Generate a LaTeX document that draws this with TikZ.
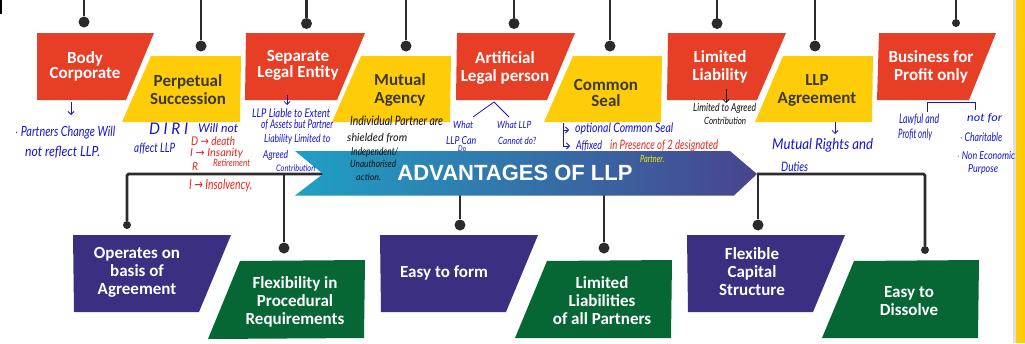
\documentclass[tikz,border=0pt]{standalone}
\usepackage{fontspec}
\setmainfont{Carlito}
\newfontfamily\handf{Lato}
\newfontfamily\arrf{DejaVu Sans}
\newfontfamily\banf{Liberation Sans}
\usetikzlibrary{arrows.meta}
\definecolor{redbox}{HTML}{E73E26}
\definecolor{yelbox}{HTML}{FFCC09}
\definecolor{purbox}{HTML}{3A2F80}
\definecolor{grnbox}{HTML}{066735}
\definecolor{stemc}{HTML}{2B2B2B}
\definecolor{inkb}{HTML}{1414D2}
\definecolor{inkr}{HTML}{E8261E}
\definecolor{inkk}{HTML}{101010}
\definecolor{inky}{HTML}{F4F000}
\definecolor{yeltext}{HTML}{3B3A2C}
\definecolor{banl}{HTML}{1FA0C4}
\definecolor{banr}{HTML}{48448E}
\newsavebox{\hwbox}
\newcommand{\hw}[7]{% name, x0, x1, y, colour, size, text
  \node[handnote,text=#5] (#1) at (#2,#4) {%
    \sbox{\hwbox}{\fontsize{#6}{#6}\selectfont\handf\itshape #7}%
    \pgfmathsetmacro{\hwsx}{(#3-#2)/\wd\hwbox}%
    \scalebox{\hwsx}[1]{\usebox{\hwbox}}};}
\tikzset{
  x=1pt,y=-1pt,
  lab/.style={inner sep=0pt,align=center,font=\fontsize{17}{18}\selectfont\bfseries},
  labw/.style={lab,text=white},
  laby/.style={lab,text=yeltext},
  stem/.style={draw=stemc,line width=2.6pt},
  dotbig/.style={circle,fill=stemc,inner sep=0pt,minimum size=11pt},
  dotsmall/.style={circle,fill=stemc,inner sep=0pt,minimum size=8pt},
  handnote/.style={anchor=west,inner sep=0pt},
  inkarrow/.style={line width=0.8pt,-{Straight Barb[length=3pt,width=6pt]}},
  inkline/.style={line width=0.8pt},
}
\begin{document}
\begin{tikzpicture}
\useasboundingbox (0,0) rectangle (1025,343);
\fill[white] (0,0) rectangle (1025,343);
% page edge
\fill[black!12] (1013,0) rectangle (1016,343);
\fill[yelbox] (1016,0) rectangle (1025,343);
\fill[black] (0,0) rectangle (2,14);
% upper connectors
\node[dotbig] (d1) at (84,22) {};
\node[dotbig] (d2) at (201,46) {};
\node[dotbig] (d3) at (306.5,23.5) {};
\node[dotbig] (d4) at (406,46) {};
\node[dotbig] (d5) at (514,23.5) {};
\node[dotbig] (d6) at (610,46) {};
\node[dotbig] (d7) at (717,23.5) {};
\node[dotbig] (d8) at (815,46) {};
\node[dotsmall] (d9) at (956,23) {};
\foreach \n/\xx in {1/84,2/201,3/306.5,4/406,5/514,6/610,7/717,8/815,9/956}{
  \coordinate (t\n) at (\xx,0);
  \draw[stem] (t\n) -- (d\n);
}
% upper boxes
\fill[redbox] (37,33) -- (154,33) -- (126,100) -- (37,100) -- cycle;
\fill[yelbox] (151,56) -- (241,56) -- (240,122) -- (122,122) -- cycle;
\fill[redbox] (246,33) -- (365,33) -- (337,100) -- (245,100) -- cycle;
\fill[yelbox] (361,56) -- (451,56) -- (450,122) -- (332,122) -- cycle;
\fill[redbox] (457,33) -- (575,33) -- (547,100) -- (456,100) -- cycle;
\fill[yelbox] (573,56) -- (662,56) -- (661,122) -- (544,122) -- cycle;
\fill[redbox] (668,33) -- (786,33) -- (757,100) -- (667,100) -- cycle;
\fill[yelbox] (783,56) -- (873,56) -- (872,122) -- (755,122) -- cycle;
\fill[redbox] (879,33) -- (996,33) -- (969,100) -- (877,100) -- cycle;
\node[labw] (body) at (85,66.5) {Body\\[-3pt]Corporate};
\node[laby] (perp) at (188,90) {Perpetual\\Succession};
\node[labw] (sep) at (298,65.5) {Separate\\[-2pt]Legal Entity};
\node[laby] (mut) at (400,90) {Mutual\\Agency};
\node[labw] (art) at (505,67.5) {Artificial\\Legal person};
\node[laby] (comm) at (606,92.5) {Common\\[-2pt]Seal};
\node[labw] (lim) at (720,66.5) {Limited\\Liability};
\node[laby] (agr) at (817,90) {LLP\\Agreement};
\node[labw] (biz) at (931,66.5) {Business for\\Profit only};
% lower connectors
\coordinate (hl) at (323,174);
\coordinate (hr) at (757,174);
\coordinate (cl) at (127,174);
\coordinate (cr) at (925,174);
\node[dotsmall] (e1) at (127,225) {};
\node[dotbig] (e2) at (284,248) {};
\node[dotbig] (e3) at (460,225) {};
\node[dotbig] (e4) at (604,248) {};
\node[dotbig] (e5) at (758,225) {};
\node[dotsmall] (e6) at (925,250) {};
\coordinate (s2) at (284,174);
\coordinate (s3) at (460,190);
\coordinate (s4) at (604,190);
\coordinate (s5) at (758,174);
\draw[stem,rounded corners=1.5pt] (e1) -- (cl) -- (hl);
\draw[stem,rounded corners=1.5pt] (hr) -- (cr) -- (e6);
\draw[stem] (s2) -- (e2);
\draw[stem] (s3) -- (e3);
\draw[stem] (s4) -- (e4);
\draw[stem] (s5) -- (e5);
% banner
\shade[left color=banl,right color=banr]
  (295,151) -- (730,151) -- (757,174) -- (734,195.5) -- (295,195.5) -- (323,174) -- cycle;
\node[text=white,inner sep=0pt,font=\fontsize{22}{22}\selectfont\banf\bfseries] (title) at (515,173) {ADVANTAGES OF LLP};
% lower boxes
\fill[purbox] (73,235) -- (231,235) -- (199,312) -- (74,312) -- cycle;
\fill[grnbox] (240,261) -- (365,260) -- (364,338) -- (208,339) -- cycle;
\fill[purbox] (380,235) -- (538,235) -- (506,312) -- (381,312) -- cycle;
\fill[grnbox] (547,261) -- (672,260) -- (671,338) -- (515,338) -- cycle;
\fill[purbox] (687,235) -- (845,235) -- (813,312) -- (688,312) -- cycle;
\fill[grnbox] (854,261) -- (979,260) -- (978,338) -- (822,338) -- cycle;
\node[labw] (op) at (137,272) {Operates on\\basis of\\Agreement};
\node[labw] (flex) at (295,302) {Flexibility in\\Procedural\\Requirements};
\node[labw] (easy) at (444,273) {Easy to form};
\node[labw] (liab) at (602,301) {Limited\\Liabilities\\of all Partners};
\node[labw] (cap) at (752,272) {Flexible\\Capital\\Structure};
\node[labw] (diss) at (909,301) {Easy to\\Dissolve};
% notes: Body Corporate
\coordinate (a1s) at (71,102); \coordinate (a1e) at (71,115);
\draw[inkb,inkarrow] (a1s) -- (a1e);
\hw{n11}{15}{115}{133}{inkb}{14}{$\cdot$ Partners Change Will}
\hw{n12}{25}{100}{152}{inkb}{14}{not reflect LLP.}
% Perpetual Succession
\hw{n21}{149}{188}{129}{inkb}{16}{D I R I}
\hw{n22}{198}{238}{128}{inkb}{12}{Will not}
\hw{n23}{134}{175}{149}{inkb}{13}{affect LLP}
\hw{n24}{191}{235}{141}{inkr}{12}{D {\arrf→} death}
\hw{n25}{190}{243}{153}{inkr}{11}{I {\arrf→} Insanity}
\hw{n26}{192}{198}{167}{inkr}{11}{R}
\hw{n27}{213}{250}{163}{inkr}{10}{Retirement}
\hw{n28}{189}{252}{186}{inkr}{14}{I {\arrf→} Insolvency.}
% Separate Legal Entity
\coordinate (a3s) at (287,95); \coordinate (a3e) at (287,105);
\draw[inkb,inkarrow] (a3s) -- (a3e);
\hw{n31}{252}{330}{113}{inkb}{12}{LLP Liable to Extent}
\hw{n32}{261}{333}{125}{inkb}{12}{of Assets but Partner}
\hw{n33}{264}{330}{139}{inkb}{11}{Liability Limited to}
\hw{n34}{263}{288}{155}{inkb}{11}{Agreed}
\hw{n35}{276}{315}{168}{inkb}{9}{Contribution}
% Mutual Agency
\hw{n41}{350}{443}{121}{inkk}{13}{Individual Partner are}
\hw{n42}{347}{407}{138}{inkk}{11}{shielded from}
\hw{n43}{351}{398}{152}{inkk}{11}{Independent/}
\hw{n44}{350}{396}{164}{inkk}{10}{Unauthorised}
\hw{n45}{356}{381}{177}{inkk}{9}{action.}
% Artificial Legal person
\coordinate (c1) at (473,117); \coordinate (c2) at (494,102); \coordinate (c3) at (509,117);
\draw[inkb,inkline] (c1) -- (c2) -- (c3);
\hw{n51}{453}{473}{125}{inkb}{10}{What}
\hw{n52}{446}{476}{141}{inkb}{11}{LLP Can}
\hw{n53}{458}{466}{149}{inkb}{8}{Do}
\hw{n54}{497}{531}{125}{inkb}{10}{What LLP}
\hw{n55}{498}{536}{141}{inkb}{10}{Cannot do?}
% Common Seal
\coordinate (b0) at (563,123); \coordinate (b1) at (563,130); \coordinate (b1e) at (569,130);
\coordinate (b2) at (563,146); \coordinate (b2e) at (570,146);
\draw[inkb,inkarrow] (b0) -- (b1) -- (b1e);
\draw[inkb,inkarrow] (b1) -- (b2) -- (b2e);
\hw{n61}{575}{673}{129}{inkb}{13}{optional Common Seal}
\hw{n62}{576}{602}{146}{inkb}{12}{Affixed}
\hw{n63}{610}{718}{146}{inkr}{13}{in Presence of 2 designated}
\hw{n64}{640}{664}{159}{inky}{10}{Partner.}
% Limited Liability
\coordinate (a7s) at (726,89); \coordinate (a7e) at (726,103);
\draw[inkk,inkarrow] (a7s) -- (a7e);
\hw{n71}{693}{756}{108}{inkk}{11}{Limited to Agreed}
\hw{n72}{704}{746}{121}{inkk}{10}{Contribution}
% LLP Agreement
\coordinate (a8s) at (835,122); \coordinate (a8e) at (835,134);
\draw[inkb,inkarrow] (a8s) -- (a8e);
\hw{n81}{772}{873}{145}{inkb}{15}{Mutual Rights and}
\hw{n82}{781}{808}{167}{inkb}{13}{Duties}
% Business for Profit only
\coordinate (g1) at (927,112); \coordinate (g2) at (927,102); \coordinate (g3) at (975,102); \coordinate (g4) at (975,110);
\draw[inkb,inkline] (g1) -- (g2) -- (g3) -- (g4);
\hw{n91}{899}{939}{120}{inkb}{13}{Lawful and}
\hw{n92}{898}{932}{135}{inkb}{13}{Profit only}
\hw{n93}{967}{1002}{118}{inkb}{11}{not for}
\hw{n94}{960}{1002}{137}{inkb}{12}{$\cdot$ Charitable}
\hw{n95}{957}{1015}{156}{inkb}{11}{$\cdot$ Non Economic}
\hw{n96}{968}{998}{169}{inkb}{11}{Purpose}
\end{tikzpicture}
\end{document}
